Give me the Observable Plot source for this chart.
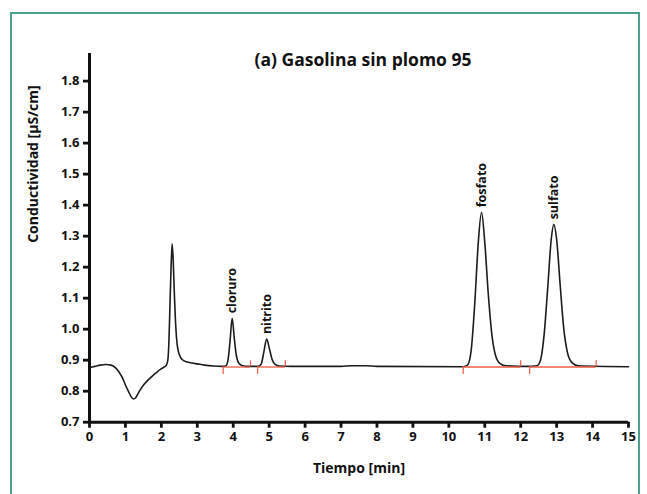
<!DOCTYPE html>
<html><head><meta charset="utf-8">
<script src="https://cdn.jsdelivr.net/npm/d3@7"></script>
<script src="https://cdn.jsdelivr.net/npm/@observablehq/plot@0.6"></script>
<style>
html,body{margin:0;padding:0;background:#fff;}
#wrap{position:relative;width:647px;height:494px;overflow:hidden;background:#fff;}
#frame{position:absolute;left:10px;top:12px;width:626px;height:500px;border:2px solid #4aa08c;border-bottom:none;}
#chart{position:absolute;left:0;top:0;}
</style></head><body>
<div id="wrap"><div id="frame"></div><div id="chart"></div></div>
<script>
const titleText = "(a) Gasolina sin plomo 95";
const xLabel = "Tiempo [min]";
const yLabel = "Conductividad [µS/cm]";
const xTicks = [0,1,2,3,4,5,6,7,8,9,10,11,12,13,14,15];
const yTicks = [0.7,0.8,0.9,1.0,1.1,1.2,1.3,1.4,1.5,1.6,1.7,1.8];

// chromatogram trace
const time = [0.00,0.15,0.30,0.45,0.60,0.72,0.82,0.92,1.00,1.08,1.15,1.22,1.28,1.34,1.42,1.52,1.62,1.74,1.86,1.98,2.08,2.14,2.18,2.21,2.24,2.27,2.30,2.33,2.36,2.40,2.44,2.50,2.58,2.70,2.85,3.00,3.20,3.45,3.70,3.80,3.86,3.91,3.97,4.03,4.08,4.14,4.22,4.35,4.70,4.78,4.85,4.93,5.01,5.08,5.16,5.28,5.60,7.00,7.30,7.70,8.00,10.40,10.52,10.62,10.72,10.82,10.91,11.00,11.10,11.20,11.30,11.42,11.60,12.20,12.45,12.55,12.65,12.75,12.85,12.92,13.00,13.10,13.20,13.30,13.42,13.60,15.00];
const conductivity = [0.876,0.880,0.884,0.886,0.884,0.876,0.862,0.842,0.820,0.800,0.784,0.775,0.778,0.790,0.806,0.822,0.835,0.848,0.860,0.871,0.878,0.884,0.900,0.960,1.080,1.200,1.275,1.220,1.120,1.010,0.950,0.918,0.902,0.895,0.891,0.888,0.884,0.881,0.880,0.882,0.905,0.960,1.035,0.970,0.920,0.893,0.884,0.880,0.880,0.888,0.925,0.968,0.935,0.903,0.887,0.881,0.880,0.880,0.882,0.882,0.880,0.879,0.884,0.930,1.080,1.280,1.377,1.280,1.110,0.980,0.915,0.890,0.882,0.880,0.882,0.900,0.980,1.130,1.290,1.338,1.290,1.140,1.000,0.925,0.893,0.882,0.879];

// labelled peaks
const peakNames = ["cloruro","nitrito","fosfato","sulfato"];
const peakTimes = [3.97,4.93,10.91,12.92];
const peakValues = [1.035,0.968,1.377,1.338];

// integration baselines (red)
const segStart = [3.72,4.68,10.40,12.25];
const segEnd = [4.48,5.45,12.00,14.10];
const baseLevel = 0.878;

const trace = time.map((t,i)=>({t, c: conductivity[i]}));
const peaks = peakNames.map((n,i)=>({n, t: peakTimes[i], c: peakValues[i]}));
const segs = segStart.map((s,i)=>({s, e: segEnd[i], b: baseLevel}));

const FONT = "'Open Sans', 'DejaVu Sans', sans-serif";
const red = "#ee5b45";

const chart = Plot.plot({
  width: 647, height: 494,
  marginLeft: 89, marginRight: 19, marginTop: 53, marginBottom: 72.3,
  style: {fontFamily: FONT, fontWeight: "bold", background: "transparent", color: "#111"},
  x: {domain: [0, 15]},
  y: {domain: [0.7, 1.889]},
  marks: [
    Plot.line(trace, {x: "t", y: "c", curve: "monotone-x", stroke: "#1c1c1c", strokeWidth: 1.6}),
    Plot.ruleY(segs, {y: "b", x1: "s", x2: "e", stroke: red, strokeWidth: 1.3}),
    Plot.ruleX(segs, {x: "s", y1: "b", y2: d => d.b - 0.024, stroke: red, strokeWidth: 1.2}),
    Plot.ruleX(segs, {x: "e", y1: "b", y2: d => d.b + 0.02, stroke: red, strokeWidth: 1.2}),
    Plot.text(peaks, {x: "t", y: "c", text: "n", rotate: -90, textAnchor: "start", dy: -5, fontSize: 12.5, fontWeight: "bold", fill: "#111"}),
    Plot.axisX({ticks: xTicks, tickSize: 6, tickPadding: 4, strokeWidth: 2.8, fontSize: 13, fontWeight: "bold", label: null, tickFormat: d3.format("d")}),
    Plot.axisY({ticks: yTicks, tickSize: 6, tickPadding: 4, strokeWidth: 2.8, fontSize: 13, fontWeight: "bold", label: null, tickFormat: d3.format(".1f")}),
    Plot.ruleX([0], {stroke: "#111", strokeWidth: 3}),
    Plot.ruleY([0.7], {stroke: "#111", strokeWidth: 3}),
    Plot.text([titleText], {frameAnchor: "top", dx: 4, dy: 7, fontSize: 17.5, fontWeight: "bold", fill: "#111", lineAnchor: "middle"}),
    Plot.text([xLabel], {frameAnchor: "bottom", dy: 46, fontSize: 14, fontWeight: "bold", fill: "#111", lineAnchor: "middle"}),
    Plot.text([yLabel], {frameAnchor: "left", dx: -56, dy: 5, rotate: -90, fontSize: 14, fontWeight: "bold", fill: "#111", lineAnchor: "middle"})
  ]
});
document.getElementById("chart").appendChild(chart);
</script>
</body></html>
